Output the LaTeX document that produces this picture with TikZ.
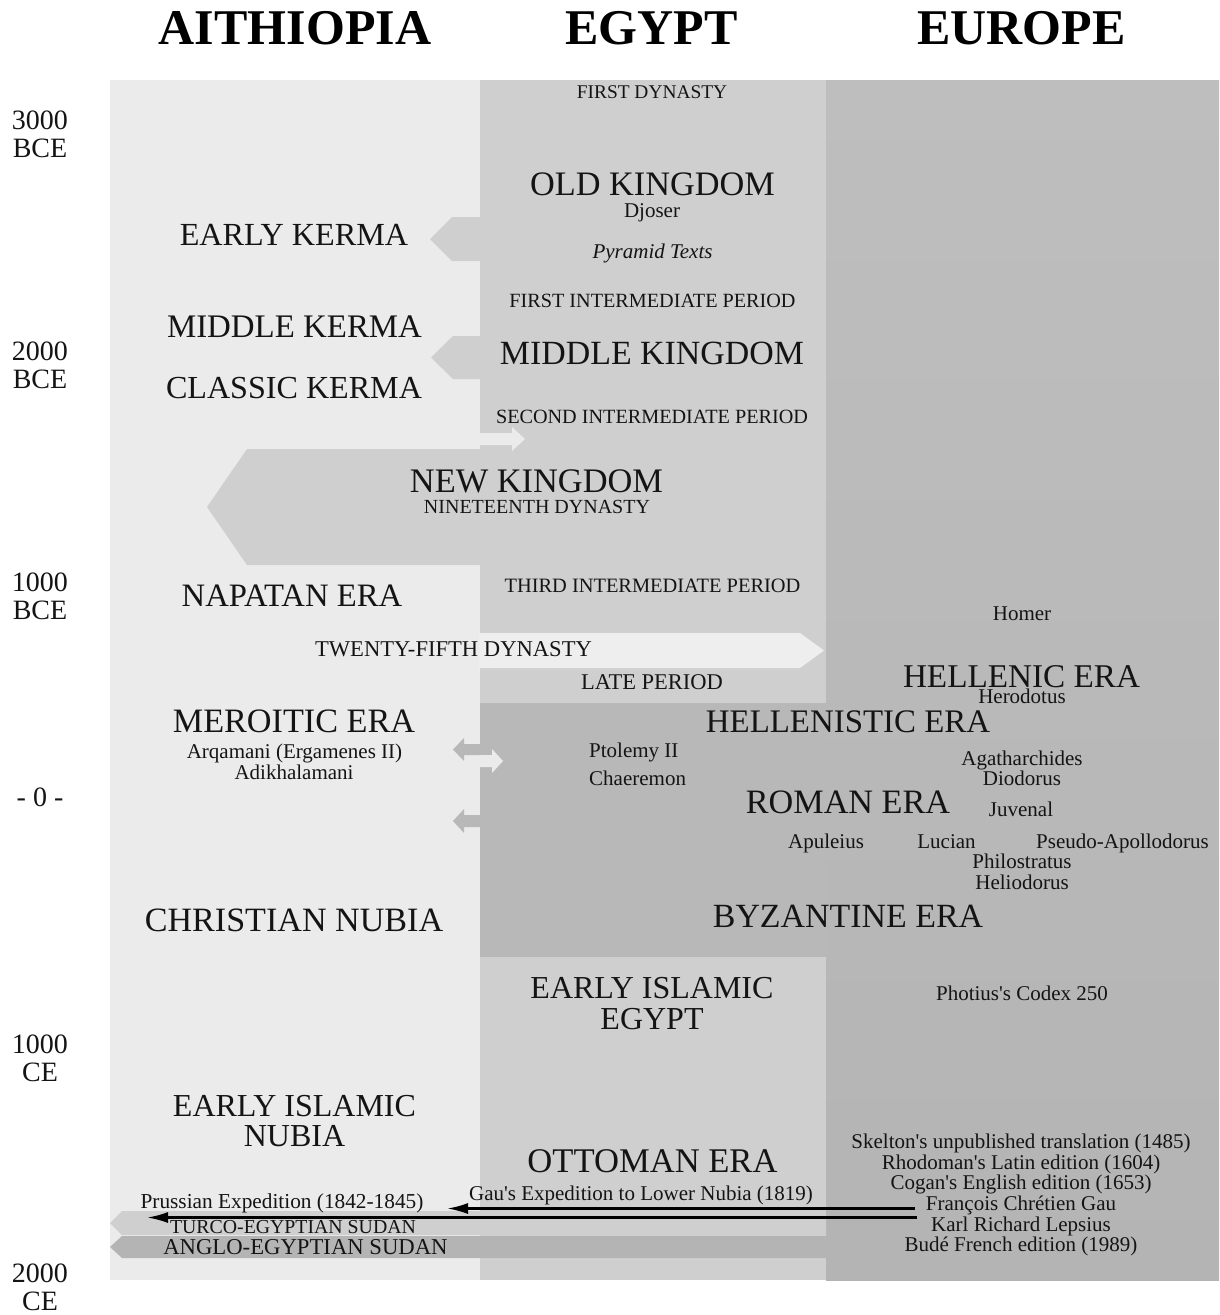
\documentclass[tikz,border=0pt]{standalone}
\usepackage{fontspec}
\setmainfont{Liberation Serif}[Ligatures=TeXOff]
\usetikzlibrary{arrows.meta}
\definecolor{aith}{HTML}{EBEBEB}
\definecolor{aithlt}{HTML}{EEEEEE}
\definecolor{egy}{HTML}{CFCFCF}
\definecolor{eurtop}{HTML}{BEBEBE}
\definecolor{eurbot}{HTML}{B4B4B4}
\definecolor{drk}{HTML}{B8B8B8}
\definecolor{drkbar}{HTML}{B4B4B4}
\definecolor{ink}{HTML}{141414}
\begin{document}
\begin{tikzpicture}[x=1pt,y=-1pt,
  big/.style={font=\fontsize{#1}{#1}\selectfont, inner sep=0pt, text=ink},
  big/.default=33,
  mid/.style={font=\fontsize{#1}{#1}\selectfont, inner sep=0pt, text=ink},
  mid/.default=20.2,
  nm/.style={font=\fontsize{21}{21}\selectfont, inner sep=0pt, text=ink, anchor=base},
  ax/.style={font=\fontsize{28}{28}\selectfont, inner sep=0pt, align=center, text=ink},
  ttl/.style={font=\fontsize{50}{50}\selectfont\bfseries, inner sep=0pt, text=black},
  blk/.style={line width=2.4pt, draw=black, -{Latex[length=21pt,width=11pt]}},
]
% canvas
\fill[white] (0,0) rectangle (1220,1315);
\useasboundingbox (0,0) rectangle (1220,1315);

% columns
\fill[aith] (110,80) rectangle (480,1280);
\fill[egy] (480,80) rectangle (826,1280);
\shade[top color=eurtop, bottom color=eurbot] (826,80) rectangle (1219,1280);
\fill[drk] (480,703) rectangle (826,957);

% Egypt -> Aithiopia arrows
\fill[egy] (480,217) -- (452,217) -- (430,239) -- (452,261) -- (480,261) -- cycle;
\fill[egy] (480,336) -- (453,336) -- (431,357.5) -- (453,379) -- (480,379) -- cycle;
\fill[egy] (480,449) -- (247,449) -- (207,507) -- (247,565) -- (480,565) -- cycle;
% Aithiopia -> Egypt arrows
\fill[aith] (479,433) -- (512,433) -- (512,427) -- (525,439) -- (512,451) -- (512,445) -- (479,445) -- cycle;
\fill[aithlt] (479,633) -- (800,633) -- (824,650.5) -- (800,668) -- (479,668) -- cycle;
% Meroitic arrows
\fill[drk] (481,744) -- (464,744) -- (464,738) -- (453,749.5) -- (464,761) -- (464,755) -- (481,755) -- cycle;
\fill[aith] (479,755) -- (492,755) -- (492,749) -- (503,761) -- (492,773) -- (492,767) -- (479,767) -- cycle;
\fill[drk] (481,815) -- (464,815) -- (464,809) -- (453,821) -- (464,833) -- (464,827) -- (481,827) -- cycle;
% Sudan bars
\fill[egy] (826,1211) -- (122,1211) -- (110,1223) -- (122,1235) -- (826,1235) -- cycle;
\fill[drkbar] (826,1236) -- (122,1236) -- (110,1247) -- (122,1258) -- (826,1258) -- cycle;

% headers
\node[ttl] (hAith) at (295,28.5) {AITHIOPIA};
\node[ttl] (hEgy) at (651.5,28.5) {EGYPT};
\node[ttl] (hEur) at (1021.5,28.5) {EUROPE};

% axis
\node[ax] (a3000b) at (40,134) {3000\\BCE};
\node[ax] (a2000b) at (40,365) {2000\\BCE};
\node[ax] (a1000b) at (40,596) {1000\\BCE};
\node[ax] (azero) at (40,797) {- 0 -};
\node[ax] (a1000c) at (40,1058) {1000\\CE};
\node[ax] (a2000c) at (40,1287.5) {2000\\CE};

% Aithiopia column
\node[big=32.2] (ek) at (294,235) {EARLY KERMA};
\node[big=32.9] (mk) at (294.5,327) {MIDDLE KERMA};
\node[big=32.1] (ck) at (294,388) {CLASSIC KERMA};
\node[big=32.7] (nap) at (292,596) {NAPATAN ERA};
\node[mid=22.6] (tfd) at (453.5,649) {TWENTY-FIFTH DYNASTY};
\node[big=34.2] (mer) at (294,721) {MEROITIC ERA};
\node[nm] (arq) at (294.5,758) {Arqamani (Ergamenes II)};
\node[nm] (adi) at (294,779) {Adikhalamani};
\node[big=34.1] (chn) at (294,920) {CHRISTIAN NUBIA};
\node[big=32] (ein1) at (294.5,1106) {EARLY ISLAMIC};
\node[big=32] (ein2) at (294.5,1136) {NUBIA};
\node[nm, font=\fontsize{21.3}{21.3}\selectfont] (pru) at (282,1208) {Prussian Expedition (1842-1845)};
\node[mid=19.8] (tes) at (293,1227) {TURCO-EGYPTIAN SUDAN};
\node[mid=22.7] (aes) at (305.5,1247.5) {ANGLO-EGYPTIAN SUDAN};

% Egypt column
\node[mid=19.4] (fd) at (652,92) {FIRST DYNASTY};
\node[big=34.3] (ok) at (652.5,184) {OLD KINGDOM};
\node[nm] (djo) at (652,217.5) {Djoser};
\node[nm] (pyr) at (652.5,258) {\itshape Pyramid Texts};
\node[mid] (fip) at (652.5,301) {FIRST INTERMEDIATE PERIOD};
\node[big=33.9] (mkd) at (652,353) {MIDDLE KINGDOM};
\node[mid] (sip) at (652,417) {SECOND INTERMEDIATE PERIOD};
\node[big=34.4] (nk) at (536.5,481) {NEW KINGDOM};
\node[mid=20] (ntd) at (537,507) {NINETEENTH DYNASTY};
\node[mid=20.4] (tip) at (652.5,586) {THIRD INTERMEDIATE PERIOD};
\node[mid=22.5] (lp) at (652,682) {LATE PERIOD};
\node[big=32.9] (hse) at (848,722) {HELLENISTIC ERA};
\node[nm, anchor=base west] (pto) at (589,757) {Ptolemy II};
\node[nm, anchor=base west] (cha) at (589,785) {Chaeremon};
\node[big=34.2] (rom) at (848,802) {ROMAN ERA};
\node[nm] (apu) at (826,848) {Apuleius};
\node[nm] (luc) at (946.5,848) {Lucian};
\node[nm] (psa) at (1122.5,848) {Pseudo-Apollodorus};
\node[big=33.9] (byz) at (848,916) {BYZANTINE ERA};
\node[big=32] (eie1) at (652,988) {EARLY ISLAMIC};
\node[big=32] (eie2) at (652,1019) {EGYPT};
\node[big=34.6] (ott) at (652.5,1161) {OTTOMAN ERA};
\node[nm] (gexp) at (641,1200.5) {Gau's Expedition to Lower Nubia (1819)};

% Europe column
\node[nm] (hom) at (1022,620) {Homer};
\node[big=33.2] (hle) at (1021.5,677) {HELLENIC ERA};
\node[nm] (her) at (1022,703) {Herodotus};
\node[nm] (aga) at (1022,765) {Agatharchides};
\node[nm] (dio) at (1022,785) {Diodorus};
\node[nm] (juv) at (1021,816) {Juvenal};
\node[nm] (phi) at (1022,868) {Philostratus};
\node[nm] (hel) at (1022,889) {Heliodorus};
\node[nm] (pho) at (1022,1000) {Photius's Codex 250};
\node[nm] (ske) at (1021,1148) {Skelton's unpublished translation (1485)};
\node[nm] (rho) at (1021,1169) {Rhodoman's Latin edition (1604)};
\node[nm] (cog) at (1021,1189.5) {Cogan's English edition (1653)};
\node[nm] (fcg) at (1021,1210.5) {François Chrétien Gau};
\node[nm] (krl) at (1021,1231) {Karl Richard Lepsius};
\node[nm] (bud) at (1021,1251) {Budé French edition (1989)};

% expedition connectors
\coordinate (gauTip) at (447,1208.5);
\coordinate (lepTip) at (147,1217.5);
\draw[blk] ([xshift=-11pt]fcg.west |- gauTip) -- (gauTip);
\draw[blk] ([xshift=-14pt]krl.west |- lepTip) -- (lepTip);
\end{tikzpicture}
\end{document}
